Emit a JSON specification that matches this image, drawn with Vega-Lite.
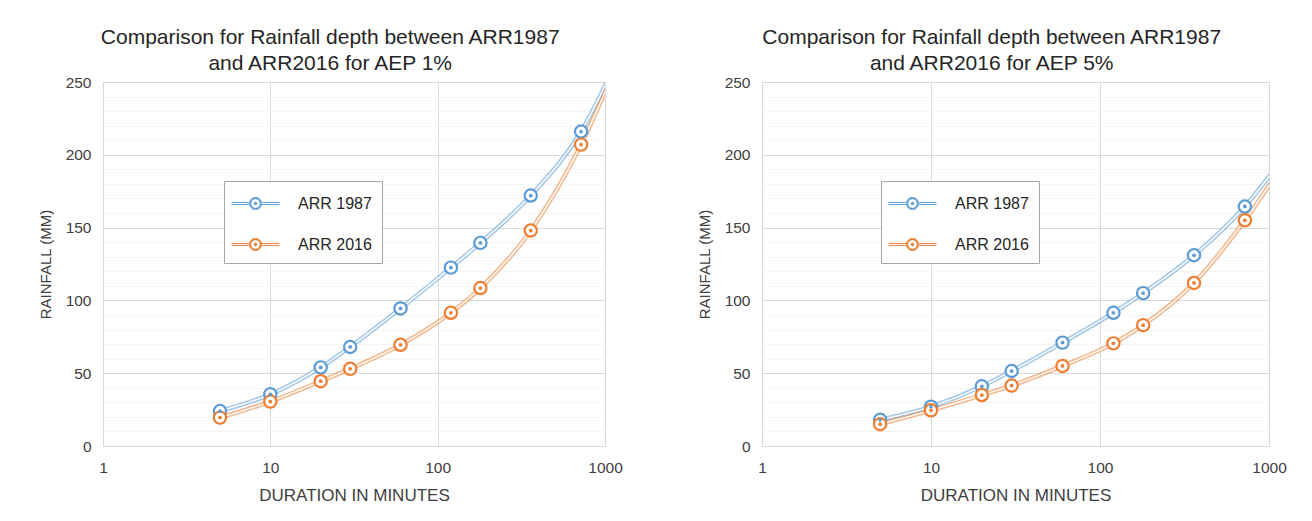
{
  "$schema": "https://vega.github.io/schema/vega-lite/v6.json",
  "background": "white",
  "padding": {"left": 37, "top": 26, "right": 5, "bottom": 5},
  "spacing": 73,
  "resolve": {"legend": {"color": "independent"}, "scale": {"color": "independent", "stroke": "independent", "fill": "independent"}},
  "config": {
    "font": "Liberation Sans",
    "view": {"stroke": "#d9d9d9", "strokeWidth": 1},
    "axis": {
      "labelFont": "Liberation Sans",
      "titleFont": "Liberation Sans",
      "labelFontSize": 15.5,
      "titleFontWeight": "normal",
      "labelColor": "#404040",
      "titleColor": "#404040",
      "ticks": false,
      "domain": false,
      "gridColor": "#d9d9d9",
      "gridWidth": 1
    },
    "title": {"font": "Liberation Sans", "fontSize": 21, "fontWeight": "normal", "color": "#262626", "lineHeight": 26, "anchor": "middle", "frame": "bounds", "offset": 1}
  },
  "datasets": {
    "aep1": [
      {"duration": 5, "rainfall": 24, "series": "ARR 1987"},
      {"duration": 10, "rainfall": 35.5, "series": "ARR 1987"},
      {"duration": 20, "rainfall": 54, "series": "ARR 1987"},
      {"duration": 30, "rainfall": 68, "series": "ARR 1987"},
      {"duration": 60, "rainfall": 94.5, "series": "ARR 1987"},
      {"duration": 120, "rainfall": 122.5, "series": "ARR 1987"},
      {"duration": 180, "rainfall": 139.5, "series": "ARR 1987"},
      {"duration": 360, "rainfall": 172, "series": "ARR 1987"},
      {"duration": 720, "rainfall": 216, "series": "ARR 1987"},
      {"duration": 1440, "rainfall": 288, "series": "ARR 1987"},
      {"duration": 5, "rainfall": 19.5, "series": "ARR 2016"},
      {"duration": 10, "rainfall": 30.5, "series": "ARR 2016"},
      {"duration": 20, "rainfall": 44.5, "series": "ARR 2016"},
      {"duration": 30, "rainfall": 53, "series": "ARR 2016"},
      {"duration": 60, "rainfall": 69.5, "series": "ARR 2016"},
      {"duration": 120, "rainfall": 91.5, "series": "ARR 2016"},
      {"duration": 180, "rainfall": 108.5, "series": "ARR 2016"},
      {"duration": 360, "rainfall": 148, "series": "ARR 2016"},
      {"duration": 720, "rainfall": 207, "series": "ARR 2016"},
      {"duration": 1440, "rainfall": 287, "series": "ARR 2016"}
    ],
    "aep5": [
      {"duration": 5, "rainfall": 18, "series": "ARR 1987"},
      {"duration": 10, "rainfall": 27, "series": "ARR 1987"},
      {"duration": 20, "rainfall": 41, "series": "ARR 1987"},
      {"duration": 30, "rainfall": 51.5, "series": "ARR 1987"},
      {"duration": 60, "rainfall": 71, "series": "ARR 1987"},
      {"duration": 120, "rainfall": 91.5, "series": "ARR 1987"},
      {"duration": 180, "rainfall": 105, "series": "ARR 1987"},
      {"duration": 360, "rainfall": 131, "series": "ARR 1987"},
      {"duration": 720, "rainfall": 164.5, "series": "ARR 1987"},
      {"duration": 1440, "rainfall": 210, "series": "ARR 1987"},
      {"duration": 5, "rainfall": 15, "series": "ARR 2016"},
      {"duration": 10, "rainfall": 24.5, "series": "ARR 2016"},
      {"duration": 20, "rainfall": 35, "series": "ARR 2016"},
      {"duration": 30, "rainfall": 41.5, "series": "ARR 2016"},
      {"duration": 60, "rainfall": 55, "series": "ARR 2016"},
      {"duration": 120, "rainfall": 70.5, "series": "ARR 2016"},
      {"duration": 180, "rainfall": 83, "series": "ARR 2016"},
      {"duration": 360, "rainfall": 112, "series": "ARR 2016"},
      {"duration": 720, "rainfall": 155, "series": "ARR 2016"},
      {"duration": 1440, "rainfall": 207, "series": "ARR 2016"}
    ]
  },
  "hconcat": [
    {
      "title": {"text": ["Comparison for Rainfall depth between  ARR1987", "and ARR2016  for AEP 1%"]},
      "width": 502,
      "height": 364,
      "data": {"name": "aep1"},
      "encoding": {
        "x": {"field": "duration", "type": "quantitative", "scale": {"type": "log", "domain": [1, 1000]}, "axis": {"values": [1, 10, 100, 1000], "format": "d", "title": "DURATION IN MINUTES", "titleFontSize": 17, "labelPadding": 14, "titlePadding": 12, "labelFlush": false}},
        "y": {"field": "rainfall", "type": "quantitative", "scale": {"domain": [0, 250], "nice": false}, "axis": {"values": [0, 10, 20, 30, 40, 50, 60, 70, 80, 90, 100, 110, 120, 130, 140, 150, 160, 170, 180, 190, 200, 210, 220, 230, 240, 250], "labelExpr": "datum.value % 50 === 0 ? datum.label : ''", "gridColor": {"condition": {"test": "datum.value % 50 === 0", "value": "#d9d9d9"}, "value": "#f4f4f4"}, "title": "RAINFALL (MM)", "titleFontSize": 15, "labelPadding": 12, "titlePadding": 12}}
      },
      "layer": [
        {
          "mark": {"type": "line", "interpolate": "monotone", "strokeWidth": 4.5, "opacity": 0.55, "clip": true},
          "encoding": {
            "color": {"field": "series", "type": "nominal", "scale": {"domain": ["ARR 1987", "ARR 2016"], "range": ["#5B9BD5", "#ED7D31"]},
              "legend": {"title": null, "orient": "none", "legendX": 121, "legendY": 99, "direction": "vertical", "fillColor": "white", "strokeColor": "#a6a6a6", "padding": 10, "symbolType": "M-2,-0.09L-0.55,-0.09M-2,0.09L-0.55,0.09M0.55,-0.09L2,-0.09M0.55,0.09L2,0.09M0.5,0A0.5,0.5,0,1,1,-0.5,0A0.5,0.5,0,1,1,0.5,0M0.4,0A0.4,0.4,0,1,0,-0.4,0A0.4,0.4,0,1,0,0.4,0M0.11,0A0.11,0.11,0,1,1,-0.11,0A0.11,0.11,0,1,1,0.11,0", "symbolSize": 576, "symbolStrokeWidth": 1, "symbolFillColor": "white", "symbolOpacity": 1, "symbolOffset": 9, "labelOffset": 30, "rowPadding": 20, "labelFontSize": 16, "labelColor": "#262626", "labelFont": "Liberation Sans"}}
          }
        },
        {
          "mark": {"type": "line", "interpolate": "monotone", "strokeWidth": 1.4, "color": "white", "clip": true},
          "encoding": {"detail": {"field": "series", "type": "nominal"}}
        },
        {
          "mark": {"type": "point", "shape": "circle", "size": 150, "filled": true, "fill": "white", "strokeWidth": 2.2, "opacity": 1, "clip": true},
          "encoding": {"stroke": {"field": "series", "type": "nominal", "scale": {"domain": ["ARR 1987", "ARR 2016"], "range": ["#5B9BD5", "#ED7D31"]}, "legend": null}}
        },
        {
          "mark": {"type": "point", "shape": "circle", "size": 14, "filled": true, "opacity": 1, "clip": true},
          "encoding": {"fill": {"field": "series", "type": "nominal", "scale": {"domain": ["ARR 1987", "ARR 2016"], "range": ["#5B9BD5", "#ED7D31"]}, "legend": null}}
        }
      ]
    },
    {
      "title": {"text": ["Comparison for Rainfall depth between  ARR1987", "and ARR2016  for AEP 5%"]},
      "width": 507,
      "height": 364,
      "data": {"name": "aep5"},
      "encoding": {
        "x": {"field": "duration", "type": "quantitative", "scale": {"type": "log", "domain": [1, 1000]}, "axis": {"values": [1, 10, 100, 1000], "format": "d", "title": "DURATION IN MINUTES", "titleFontSize": 17, "labelPadding": 14, "titlePadding": 12, "labelFlush": false}},
        "y": {"field": "rainfall", "type": "quantitative", "scale": {"domain": [0, 250], "nice": false}, "axis": {"values": [0, 10, 20, 30, 40, 50, 60, 70, 80, 90, 100, 110, 120, 130, 140, 150, 160, 170, 180, 190, 200, 210, 220, 230, 240, 250], "labelExpr": "datum.value % 50 === 0 ? datum.label : ''", "gridColor": {"condition": {"test": "datum.value % 50 === 0", "value": "#d9d9d9"}, "value": "#f4f4f4"}, "title": "RAINFALL (MM)", "titleFontSize": 15, "labelPadding": 12, "titlePadding": 12}}
      },
      "layer": [
        {
          "mark": {"type": "line", "interpolate": "monotone", "strokeWidth": 4.5, "opacity": 0.55, "clip": true},
          "encoding": {
            "color": {"field": "series", "type": "nominal", "scale": {"domain": ["ARR 1987", "ARR 2016"], "range": ["#5B9BD5", "#ED7D31"]},
              "legend": {"title": null, "orient": "none", "legendX": 119, "legendY": 99, "direction": "vertical", "fillColor": "white", "strokeColor": "#a6a6a6", "padding": 10, "symbolType": "M-2,-0.09L-0.55,-0.09M-2,0.09L-0.55,0.09M0.55,-0.09L2,-0.09M0.55,0.09L2,0.09M0.5,0A0.5,0.5,0,1,1,-0.5,0A0.5,0.5,0,1,1,0.5,0M0.4,0A0.4,0.4,0,1,0,-0.4,0A0.4,0.4,0,1,0,0.4,0M0.11,0A0.11,0.11,0,1,1,-0.11,0A0.11,0.11,0,1,1,0.11,0", "symbolSize": 576, "symbolStrokeWidth": 1, "symbolFillColor": "white", "symbolOpacity": 1, "symbolOffset": 9, "labelOffset": 30, "rowPadding": 20, "labelFontSize": 16, "labelColor": "#262626", "labelFont": "Liberation Sans"}}
          }
        },
        {
          "mark": {"type": "line", "interpolate": "monotone", "strokeWidth": 1.4, "color": "white", "clip": true},
          "encoding": {"detail": {"field": "series", "type": "nominal"}}
        },
        {
          "mark": {"type": "point", "shape": "circle", "size": 150, "filled": true, "fill": "white", "strokeWidth": 2.2, "opacity": 1, "clip": true},
          "encoding": {"stroke": {"field": "series", "type": "nominal", "scale": {"domain": ["ARR 1987", "ARR 2016"], "range": ["#5B9BD5", "#ED7D31"]}, "legend": null}}
        },
        {
          "mark": {"type": "point", "shape": "circle", "size": 14, "filled": true, "opacity": 1, "clip": true},
          "encoding": {"fill": {"field": "series", "type": "nominal", "scale": {"domain": ["ARR 1987", "ARR 2016"], "range": ["#5B9BD5", "#ED7D31"]}, "legend": null}}
        }
      ]
    }
  ]
}
